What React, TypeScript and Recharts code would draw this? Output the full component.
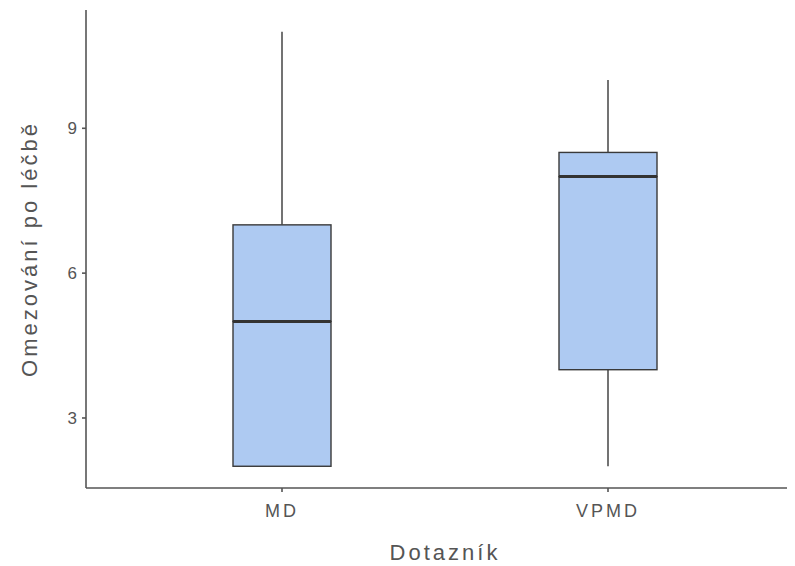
import React from "react";
import { ComposedChart, Bar, XAxis, YAxis, Label } from "recharts";

const categories = ["MD", "VPMD"];
const minValues = [2, 2];
const q1Values = [2, 4];
const medianValues = [5, 8];
const q3Values = [7, 8.5];
const maxValues = [11, 10];
const yTicks = [3, 6, 9];

const data = categories.map((name, i) => ({
  name,
  base: minValues[i],
  whiskerLow: q1Values[i] - minValues[i],
  boxLow: medianValues[i] - q1Values[i],
  boxHigh: q3Values[i] - medianValues[i],
  whiskerHigh: maxValues[i] - q3Values[i],
}));

const FILL = "#aecaf2";
const STROKE = "#3a3a3a";

const Empty = () => null;

const Whisker = (props: any) => {
  const { x, y, width, height } = props;
  const cx = x + width / 2;
  return <line x1={cx} x2={cx} y1={y} y2={y + height} stroke="#444" strokeWidth={1.5} />;
};

const BoxLow = (props: any) => {
  const { x, y, width, height } = props;
  return <rect x={x} y={y} width={width} height={height} fill={FILL} stroke={STROKE} strokeWidth={1.4} />;
};

const BoxHigh = (props: any) => {
  const { x, y, width, height } = props;
  return (
    <g>
      <rect x={x} y={y} width={width} height={height} fill={FILL} stroke={STROKE} strokeWidth={1.4} />
      <line x1={x} x2={x + width} y1={y + height} y2={y + height} stroke="#333" strokeWidth={3} />
    </g>
  );
};

const font = "'Liberation Sans', Arial, sans-serif";

export default function App() {
  return (
    <div style={{ width: 787, height: 558, overflow: "hidden" }}>
      <ComposedChart
        width={830}
        height={558}
        data={data}
        margin={{ top: 2, right: 34, bottom: 0, left: 0 }}
      >
        <XAxis
          dataKey="name"
          type="category"
          padding={{ left: 33, right: 33 }}
          height={78}
          tickSize={4}
          tickMargin={12}
          axisLine={{ stroke: "#555", strokeWidth: 1.6 }}
          tickLine={{ stroke: "#555", strokeWidth: 1.6 }}
          tick={{ fill: "#555", fontSize: 18, fontFamily: font, letterSpacing: 3 }}
        >
          <Label
            content={(p: any) => {
              const vb = p.viewBox;
              return (
                <text
                  x={vb.x + vb.width / 2}
                  y={vb.y + vb.height - 6}
                  textAnchor="middle"
                  fill="#555"
                  fontSize={22}
                  fontFamily={font}
                  letterSpacing={3}
                >
                  Dotazník
                </text>
              );
            }}
          />
        </XAxis>
        <YAxis
          type="number"
          domain={[1.55, 11.45]}
          allowDataOverflow
          ticks={yTicks}
          width={78}
          tickSize={4}
          tickMargin={5}
          axisLine={{ stroke: "#555", strokeWidth: 1.6 }}
          tickLine={{ stroke: "#555", strokeWidth: 1.6 }}
          tick={{ fill: "#555", fontSize: 17, fontFamily: font }}
        >
          <Label
            content={(p: any) => {
              const vb = p.viewBox;
              const cx = 21;
              const cy = vb.y + vb.height / 2;
              return (
                <text
                  x={cx}
                  y={cy}
                  transform={`rotate(-90 ${cx} ${cy})`}
                  textAnchor="middle"
                  dominantBaseline="central"
                  fill="#555"
                  fontSize={22}
                  fontFamily={font}
                  letterSpacing={3}
                >
                  Omezování po léčbě
                </text>
              );
            }}
          />
        </YAxis>
        <Bar dataKey="base" stackId="a" barSize={98} shape={<Empty />} isAnimationActive={false} />
        <Bar dataKey="whiskerLow" stackId="a" barSize={98} shape={<Whisker />} isAnimationActive={false} />
        <Bar dataKey="boxLow" stackId="a" barSize={98} shape={<BoxLow />} isAnimationActive={false} />
        <Bar dataKey="boxHigh" stackId="a" barSize={98} shape={<BoxHigh />} isAnimationActive={false} />
        <Bar dataKey="whiskerHigh" stackId="a" barSize={98} shape={<Whisker />} isAnimationActive={false} />
      </ComposedChart>
    </div>
  );
}
